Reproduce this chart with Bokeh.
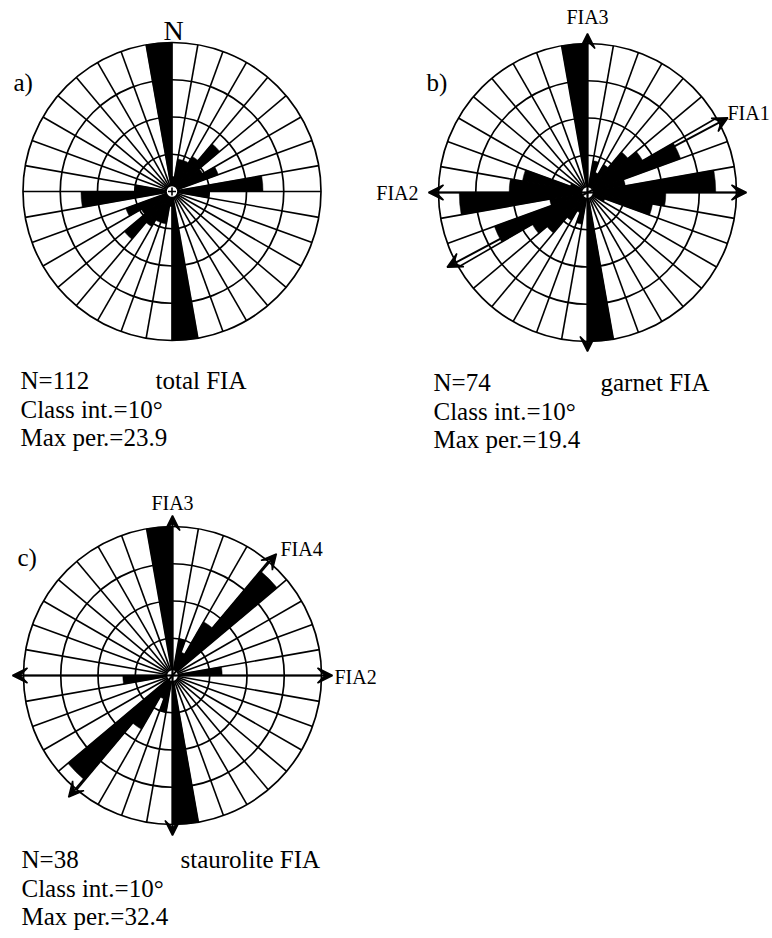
import math
from bokeh.plotting import figure
from bokeh.models import Range1d, Arrow, VeeHead
from bokeh.core.properties import value
from bokeh.embed import file_html
from bokeh.resources import INLINE

# ---------------- data ----------------
class_start = list(range(0, 180, 10))          # axial data, class interval 10 deg
total_pct =      [2.4, 5.3, 5.3, 6.5, 10.0, 5.7, 7.9, 1.2, 14.6, 6.0, 0, 0, 0, 0, 0, 0, 0, 23.9]
garnet_pct =     [0, 4.2, 2.8, 4.2, 6.9, 8.3, 12.9, 5.0, 16.7, 10.2, 8.6, 2.4, 0, 0, 0, 0, 0, 19.4]
staurolite_pct = [0, 8.1, 5.4, 13.5, 29.7, 0, 0, 0, 10.8, 0, 0, 0, 0, 0, 0, 0, 0, 32.4]
max_per = [23.9, 19.4, 32.4]
n_counts = [112, 74, 38]
class_int = 10
panel_letters = ["a)", "b)", "c)"]
panel_names = ["total FIA", "garnet FIA", "staurolite FIA"]
garnet_fia_names = ["FIA3", "FIA2", "FIA1"]
garnet_fia_bearing = [0, 90, 62]
staur_fia_names = ["FIA3", "FIA2", "FIA4"]
staur_fia_bearing = [0, 90, 40.5]

# ---------------- layout ----------------
W, H = 772, 938
R = 149
centers = [(171.5, 191), (587, 192), (172, 675)]
FONT = value("Liberation Serif")
TY = -8   # text vertical correction

p = figure(width=W, height=H, output_backend="svg", toolbar_location=None,
           x_range=Range1d(0, W), y_range=Range1d(-H, 0),
           x_axis_type=None, y_axis_type=None, min_border=0,
           outline_line_color=None, background_fill_color="white")
p.grid.visible = False

def Y(img_y):
    return -img_y

series = [total_pct, garnet_pct, staurolite_pct]

for k, (cx, cy) in enumerate(centers):
    cyd = Y(cy)
    scale = R / max_per[k]
    xs, ys, rs, sa, ea = [], [], [], [], []
    for b, v in zip(class_start, series[k]):
        if v <= 0:
            continue
        for bb in (b, b + 180):
            xs.append(cx); ys.append(cyd); rs.append(v * scale)
            sa.append(math.radians(90 - bb - class_int))
            ea.append(math.radians(90 - bb))
    p.wedge(x=xs, y=ys, radius=rs, start_angle=sa, end_angle=ea,
            fill_color="black", line_color="black", line_width=0.5)

    # rings
    p.circle(x=[cx] * 4, y=[cyd] * 4, radius=[R * f for f in (0.25, 0.5, 0.75, 1.0)],
             fill_color=None, line_color="black", line_width=1.7)
    # spokes
    r0 = 6
    x0, y0, x1, y1 = [], [], [], []
    for a in range(0, 360, 10):
        t = math.radians(90 - a)
        x0.append(cx + r0 * math.cos(t)); y0.append(cyd + r0 * math.sin(t))
        x1.append(cx + R * math.cos(t)); y1.append(cyd + R * math.sin(t))
    p.segment(x0=x0, y0=y0, x1=x1, y1=y1, line_color="black", line_width=1.6)

# arrows
def add_arrows(k, bearings, half):
    cx, cy = centers[k]
    cyd = Y(cy)
    for b in bearings:
        t = math.radians(90 - b)
        p.add_layout(Arrow(
            start=VeeHead(size=15, fill_color="black", line_color="black", line_width=1.5),
            end=VeeHead(size=15, fill_color="black", line_color="black", line_width=1.5),
            x_start=cx - half * math.cos(t), y_start=cyd - half * math.sin(t),
            x_end=cx + half * math.cos(t), y_end=cyd + half * math.sin(t),
            line_color="black", line_width=2))

add_arrows(1, garnet_fia_bearing, 159)
add_arrows(2, staur_fia_bearing, 160)

# center marks
for (cx, cy) in centers:
    cyd = Y(cy)
    p.circle(x=[cx], y=[cyd], radius=6, fill_color="white", line_color="black", line_width=1.6)
    p.segment(x0=[cx - 4, cx], y0=[cyd, cyd - 4], x1=[cx + 4, cx], y1=[cyd, cyd + 4],
              line_color="black", line_width=1.6)

def txt(x, y, s, size, align="left"):
    p.text(x=[x], y=[Y(y + TY)], text=[s], text_font=FONT, text_font_size=size,
           text_align=align, text_baseline="alphabetic", text_color="black")

# panel letters and N
txt(13, 90, panel_letters[0], "25px")
txt(426, 90, panel_letters[1], "25px")
txt(17, 565, panel_letters[2], "25px")
txt(173, 38, "N", "28px", "center")

# FIA labels
txt(587, 24, garnet_fia_names[0], "20px", "center")
txt(418, 200, garnet_fia_names[1], "20px", "right")
txt(727, 120, garnet_fia_names[2], "20px")
txt(172, 510, staur_fia_names[0], "20px", "center")
txt(334, 684, staur_fia_names[1], "20px")
txt(280, 556, staur_fia_names[2], "20px")

# statistics
stat_pos = [(20, 388, 155), (433, 390, 600), (21, 867, 180)]
for k, (sx, sy, nx) in enumerate(stat_pos):
    txt(sx, sy, f"N={n_counts[k]}", "25px")
    txt(nx, sy, panel_names[k], "25px")
    txt(sx, sy + 28.5, f"Class int.={class_int}\u00b0", "25px")
    txt(sx, sy + 57, f"Max per.={max_per[k]}", "25px")

open("out.html", "w").write(file_html(p, INLINE))
